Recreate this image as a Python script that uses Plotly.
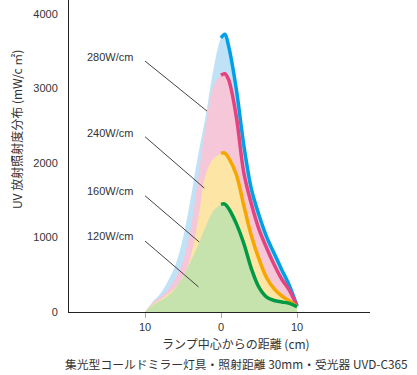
import plotly.graph_objects as go

# distance from lamp centre (cm)
x_cm = [-10, -9, -8, -7, -6, -5, -4, -3, -2, -1, 0, 0.5, 1, 2, 3, 4, 5, 6, 7, 8, 9, 10]

# UV irradiance distribution (mW/cm2)
w280 = [0, 135, 245, 410, 630, 995, 1520, 2120, 2640, 3255, 3680, 3730, 3570, 3000, 2240, 1650, 1300, 1010, 785, 564, 355, 80]
w240 = [0, 120, 200, 295, 450, 680, 1110, 1800, 2500, 3030, 3180, 3200, 3120, 2630, 1870, 1450, 1110, 860, 635, 440, 290, 80]
w160 = [0, 100, 165, 240, 330, 470, 740, 1250, 1850, 2060, 2130, 2135, 2070, 1850, 1430, 1020, 710, 460, 310, 215, 150, 70]
w120 = [0, 90, 150, 215, 320, 470, 680, 900, 1150, 1360, 1445, 1450, 1390, 1190, 920, 580, 330, 200, 155, 135, 115, 70]

series_names = ["280W/cm", "240W/cm", "160W/cm", "120W/cm"]
series_vals = [w280, w240, w160, w120]
fill_colors = ["#bfe2f6", "#f6c6d9", "#fde5a6", "#c6e2ad"]
line_colors = ["#00a0e9", "#e4437f", "#f5a700", "#009a44"]

x_ticks = [-10, 0, 10]
x_tick_text = ["10", "0", "10"]
y_ticks = [0, 1000, 2000, 3000, 4000]

# label positions (y in data units) and leader line ends
label_y = [3420, 2400, 1625, 1020]
leader_start = [(-10, 3370), (-10, 2354), (-10, 1561), (-10, 953)]
leader_end = [(-1.84, 2698), (-2.2, 1664), (-2.87, 940), (-2.95, 336)]

fig = go.Figure()
for name, vals, fc, lc in zip(series_names, series_vals, fill_colors, line_colors):
    fig.add_trace(go.Scatter(
        x=x_cm, y=vals, mode="lines", fill="tozeroy", fillcolor=fc,
        line=dict(width=0, color=fc, shape="spline", smoothing=1.0),
        hoverinfo="skip", showlegend=False))
    xs = [x for x in x_cm if x >= 0]
    ys = [v for x, v in zip(x_cm, vals) if x >= 0]
    fig.add_trace(go.Scatter(
        x=xs, y=ys, mode="lines",
        line=dict(width=3.5, color=lc, shape="spline", smoothing=1.0),
        name=name, showlegend=False))

font_num = "Liberation Sans, Arial, sans-serif"
font_jp = "Noto Sans CJK JP, sans-serif"

for name, ly, (sx, sy), (ex, ey) in zip(series_names, label_y, leader_start, leader_end):
    fig.add_annotation(x=-11.3, y=ly, xref="x", yref="y", text=name,
                       showarrow=False, xanchor="right", yanchor="middle",
                       font=dict(family=font_num, size=11, color="#333333"))
    fig.add_shape(type="line", x0=sx, y0=sy, x1=ex, y1=ey, xref="x", yref="y",
                  line=dict(color="#444444", width=1))

W, H = 417, 375
L, R, T, B = 69, 47, 0, 63
pw, ph = W - L - R, H - T - B

def px(xp, yp):
    return (xp - L) / pw, (H - B - yp) / ph

ax, ay = px(236, 343)
fig.add_annotation(x=ax, y=ay, xref="paper", yref="paper", text="ランプ中心からの距離 (cm)",
                   showarrow=False, xanchor="center", yanchor="middle",
                   font=dict(family=font_jp, size=12, color="#333333"))
ax, ay = px(236, 363)
fig.add_annotation(x=ax, y=ay, xref="paper", yref="paper",
                   text="集光型コールドミラー灯具・照射距離 30mm・受光器 UVD-C365",
                   showarrow=False, xanchor="center", yanchor="middle",
                   font=dict(family=font_jp, size=11.8, color="#333333"))
ax, ay = px(16, 130)
fig.add_annotation(x=ax, y=ay, xref="paper", yref="paper", text="UV 放射照射度分布 (mW/c ㎡)",
                   showarrow=False, textangle=-90, xanchor="center", yanchor="middle",
                   font=dict(family=font_jp, size=12, color="#333333"))

fig.update_layout(
    width=W, height=H, margin=dict(l=L, r=R, t=T, b=B),
    paper_bgcolor="white", plot_bgcolor="white",
    xaxis=dict(range=[-20, 19.6], tickvals=x_ticks, ticktext=x_tick_text,
               showgrid=False, zeroline=False, showline=True, linecolor="#222222", linewidth=1,
               ticks="outside", ticklen=5, tickcolor="#aaaaaa", tickwidth=1,
               tickfont=dict(family=font_num, size=11, color="#333333")),
    yaxis=dict(range=[0, 4190], tickvals=y_ticks, showgrid=False, zeroline=False,
               showline=True, linecolor="#222222", linewidth=1, ticks="", ticklabelstandoff=8,
               tickfont=dict(family=font_num, size=11, color="#333333")),
)

fig.write_html("out.html", config={"displayModeBar": False},
               post_script="document.body.style.margin='0';")
